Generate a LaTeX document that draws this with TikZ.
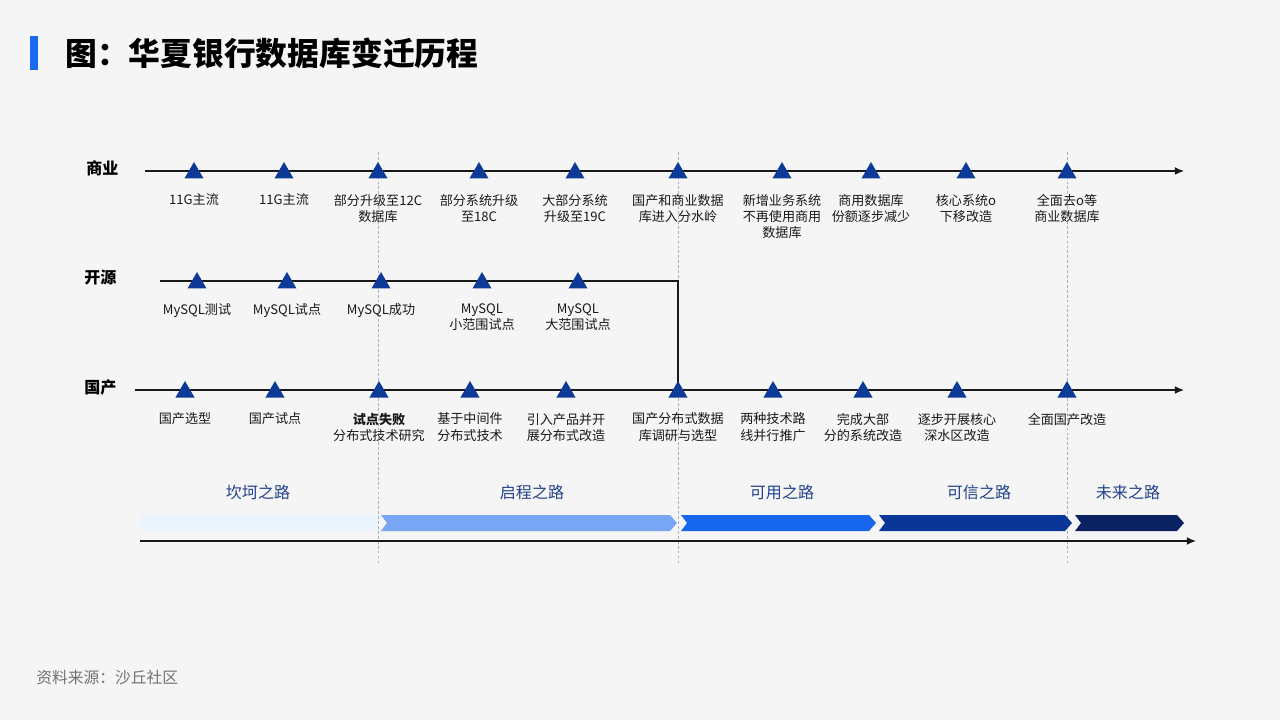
\documentclass[tikz,border=0pt]{standalone}
\usepackage{fontspec}
\setmainfont{Noto Sans CJK SC}
\usetikzlibrary{shapes.geometric,arrows.meta,positioning}

\definecolor{pagebg}{HTML}{F5F5F5}
\definecolor{markblue}{HTML}{0D3A97}
\definecolor{titleblue}{HTML}{1A6AF0}
\definecolor{gridline}{HTML}{9DB2CF}
\definecolor{phasetext}{HTML}{22428A}
\definecolor{phaseA}{HTML}{EBF3FC}
\definecolor{phaseB}{HTML}{78A6F5}
\definecolor{phaseC}{HTML}{1767EE}
\definecolor{phaseD}{HTML}{0A3698}
\definecolor{phaseE}{HTML}{0A2261}

\begin{document}
\begin{tikzpicture}[x=0.025cm, y=-0.025cm,
        milestone/.style={regular polygon, regular polygon sides=3, fill=markblue, inner sep=0pt, outer sep=0pt, minimum size=0.55cm},
        lab/.style={align=center, inner sep=0pt, anchor=north, font=\fontsize{9.3}{11.4}\selectfont, text=black!90},
        rowname/.style={anchor=west, inner sep=0pt, font=\fontsize{11.4}{13}\selectfont\bfseries},
        phase/.style={inner sep=0pt, font=\fontsize{11.4}{13}\selectfont, text=phasetext},
        axis/.style={->, >={Latex[length=2.3mm, width=2mm]}, line width=0.9pt, black!90},
        guide/.style={gridline, line width=0.5pt, dash pattern=on 2pt off 1.5pt}]

    % page
    \fill[pagebg] (0,0) rectangle (1280,720);
    \useasboundingbox (0,0) rectangle (1280,720);

    % title
    \fill[titleblue] (30,36) rectangle (38,70);
    \node[anchor=west, inner sep=0pt, font=\fontsize{22.6}{26}\selectfont\bfseries] (title) at (65,53) {图：华夏银行数据库变迁历程};

    % dashed guides
    \foreach \x [count=\i] in {378,678,1067} {
        \coordinate (gtop\i) at (\x,152);
        \coordinate (gbot\i) at (\x,565);
        \draw[guide] (gtop\i) -- (gbot\i);
    }

    % rows
    \node[rowname] (bizname) at (86,168) {商业};
    \node[rowname] (osname) at (84,277) {开源};
    \node[rowname] (domname) at (84,387) {国产};

    \coordinate (bizstart) at (145,171);
    \coordinate (bizend) at (1184,171);
    \coordinate (osstart) at (160,281);
    \coordinate (oscorner) at (678,281);
    \coordinate (osjoin) at (678,390);
    \coordinate (domstart) at (135,390);
    \coordinate (domend) at (1184,390);

    \draw[axis] (bizstart) -- (bizend);
    \draw[line width=0.9pt, black!90] (osstart) -- (oscorner) -- (osjoin);
    \draw[axis] (domstart) -- (domend);

    % commercial
    \foreach \x/\txt [count=\i] in {194/11G主流, 284/11G主流, 378/{部分升级至12C\\数据库},
        479/{部分系统升级\\至18C}, 575/{大部分系统\\升级至19C}, 678/{国产和商业数据\\库进入分水岭},
        782/{新增业务系统\\不再使用商用\\数据库}, 871/{商用数据库\\份额逐步减少},
        966/{核心系统o\\下移改造}, 1067/{全面去o等\\商业数据库}} {
        \node[milestone] (biz\i) at (\x,173) {};
        \node[lab, below=0.38cm of biz\i] (bizlab\i) {\txt};
    }

    % open source
    \foreach \x/\txt [count=\i] in {197/MySQL测试, 287/MySQL试点, 381/MySQL成功,
        482/{MySQL\\小范围试点}, 578/{MySQL\\大范围试点}} {
        \node[milestone] (os\i) at (\x,283) {};
        \node[lab, below=0.38cm of os\i] (oslab\i) {\txt};
    }

    % domestic
    \foreach \x/\txt [count=\i] in {185/国产选型, 275/国产试点, 379/{\textbf{试点失败}\\分布式技术研究},
        470/{基于中间件\\分布式技术}, 566/{引入产品并开\\展分布式改造}, 678/{国产分布式数据\\库调研与选型},
        773/{两种技术路\\线并行推广}, 863/{完成大部\\分的系统改造}, 957/{逐步开展核心\\深水区改造},
        1067/全面国产改造} {
        \node[milestone] (dom\i) at (\x,392) {};
        \node[lab, below=0.38cm of dom\i] (domlab\i) {\txt};
    }

    % phases
    \fill[phaseA] (140,515) rectangle (378,531);
    \foreach \xs/\xe/\col in {381/677/phaseB, 681/876/phaseC, 879/1072/phaseD, 1075/1184/phaseE} {
        \fill[\col] (\xs,515) -- (\xe-7,515) -- (\xe,523) -- (\xe-7,531) -- (\xs,531) -- (\xs+6,523) -- cycle;
    }
    \foreach \x/\txt [count=\i] in {258/坎坷之路, 532/启程之路, 782/可用之路, 979/可信之路, 1128/未来之路} {
        \node[phase] (ph\i) at (\x,492) {\txt};
    }

    \coordinate (phstart) at (140,541);
    \coordinate (phend) at (1196,541);
    \draw[axis] (phstart) -- (phend);

    % source
    \node[anchor=west, inner sep=0pt, font=\fontsize{11.2}{13}\selectfont, text=black!55] (source) at (36,678) {资料来源：沙丘社区};

\end{tikzpicture}
\end{document}
